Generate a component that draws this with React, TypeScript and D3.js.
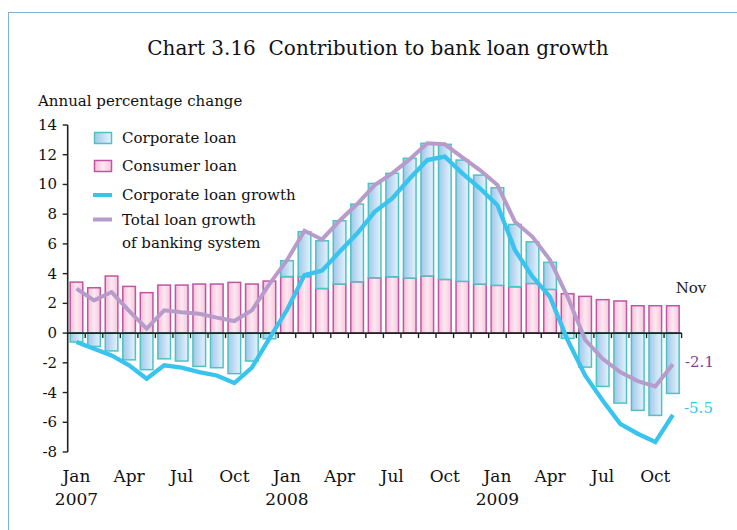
import React from "react";
import * as d3 from "d3";

const months = [
  "2007-01","2007-02","2007-03","2007-04","2007-05","2007-06","2007-07","2007-08","2007-09","2007-10","2007-11","2007-12",
  "2008-01","2008-02","2008-03","2008-04","2008-05","2008-06","2008-07","2008-08","2008-09","2008-10","2008-11","2008-12",
  "2009-01","2009-02","2009-03","2009-04","2009-05","2009-06","2009-07","2009-08","2009-09","2009-10","2009-11",
];
const consumerLoan = [
  3.43, 3.05, 3.84, 3.14, 2.72, 3.23, 3.23, 3.3, 3.3, 3.41, 3.3, 3.5,
  3.8, 3.8, 3.0, 3.3, 3.45, 3.72, 3.79, 3.7, 3.84, 3.61, 3.48, 3.3,
  3.21, 3.12, 3.34, 2.94, 2.65, 2.47, 2.25, 2.16, 1.84, 1.84, 1.84,
];
const corporateLoan = [
  -0.6, -0.9, -1.2, -1.8, -2.46, -1.73, -1.88, -2.24, -2.33, -2.73, -1.88, -0.38,
  1.07, 3.02, 3.21, 4.26, 5.23, 6.35, 6.96, 8.06, 8.93, 9.09, 8.16, 7.33,
  6.57, 4.19, 2.8, 1.82, -0.36, -2.29, -3.59, -4.71, -5.2, -5.54, -4.06,
];
const corporateGrowth = [
  -0.6, -1.05, -1.5, -2.17, -3.07, -2.17, -2.33, -2.62, -2.85, -3.36, -2.33, -0.35,
  1.55, 3.9, 4.2, 5.47, 6.7, 8.16, 9.06, 10.4, 11.64, 11.87, 10.75, 9.74,
  8.61, 5.58, 3.79, 2.44, -0.47, -2.85, -4.53, -6.1, -6.77, -7.33, -5.5,
];
const totalGrowth = [
  2.99, 2.2, 2.76, 1.5, 0.3, 1.53, 1.4, 1.3, 1.04, 0.81, 1.53, 3.3,
  4.9, 6.88, 6.3, 7.56, 8.68, 9.96, 10.75, 11.69, 12.77, 12.7, 11.82, 10.97,
  9.96, 7.49, 6.48, 4.91, 2.44, -0.45, -1.73, -2.62, -3.23, -3.59, -2.1,
];
const yTicks = [14, 12, 10, 8, 6, 4, 2, 0, -2, -4, -6, -8];
const monthLabels = ["Jan", "Apr", "Jul", "Oct"];
const yearLabels = ["2007", "2008", "2009"];
const legendItems = ["Corporate loan", "Consumer loan", "Corporate loan growth", "Total loan growth", "of banking system"];

const FONT = "'DejaVu Serif', 'Liberation Serif', serif";
const BLUE = "#38c4ef";
const PURPLE = "#b79bcb";
const TEAL = "#4dc3c3";
const MAGENTA = "#bf55a4";

export default function App() {
  const W = 737, H = 530;
  const x = d3.scaleBand<number>().domain(months.map((_, i) => i)).range([67.7, 681.6]).paddingInner(0.28).paddingOuter(0.14);
  const y = d3.scaleLinear().domain([-8, 14]).range([452, 125]);
  const cx = (i: number) => (x(i) as number) + x.bandwidth() / 2;
  const line = d3.line<number>().x((_, i) => cx(i)).y((d) => y(d)).curve(d3.curveLinear);
  const step = x.step();
  const x0 = 67.7;
  const xEnd = 681.6;
  const y0 = y(0);

  return (
    <svg width={W} height={H} style={{ position: "absolute", left: 0, top: 0, background: "#fff" }} fontFamily={FONT}>
      <defs>
        <linearGradient id="corpG" x1="0" x2="1" y1="0" y2="0">
          <stop offset="0%" stopColor="#9fc8ea" />
          <stop offset="65%" stopColor="#cde4f6" />
          <stop offset="100%" stopColor="#e6f2fb" />
        </linearGradient>
        <linearGradient id="consG" x1="0" x2="1" y1="0" y2="0">
          <stop offset="0%" stopColor="#f5bcd7" />
          <stop offset="50%" stopColor="#fde9f2" />
          <stop offset="100%" stopColor="#f6c6dc" />
        </linearGradient>
      </defs>
      <rect x={8.5} y={12.5} width={740} height={540} fill="none" stroke="#7fb1dd" strokeWidth={1} />
      <text x={378} y={55} textAnchor="middle" fontSize={20} fill="#111" style={{ whiteSpace: "pre" }}>Chart 3.16  Contribution to bank loan growth</text>
      <text x={38} y={106} fontSize={15} fill="#111">Annual percentage change</text>

      {/* bars */}
      {months.map((_, i) => {
        const c = consumerLoan[i];
        const k = corporateLoan[i];
        const bx = x(i) as number;
        const bw = x.bandwidth();
        const consTop = y(c);
        const corpRect = k >= 0
          ? { y: y(c + k), h: y(c) - y(c + k) }
          : { y: y0, h: y(k) - y0 };
        return (
          <g key={i}>
            <rect x={bx} y={consTop} width={bw} height={y0 - consTop} fill="url(#consG)" stroke={MAGENTA} strokeWidth={1.5} />
            <rect x={bx} y={corpRect.y} width={bw} height={corpRect.h} fill="url(#corpG)" stroke={TEAL} strokeWidth={1.5} />
          </g>
        );
      })}

      {/* axes */}
      <line x1={x0} x2={xEnd} y1={y0} y2={y0} stroke="#222" strokeWidth={1.6} />
      {d3.range(1, months.length + 1).map((j) => (
        <line key={j} x1={x0 + j * step} x2={x0 + j * step} y1={y0} y2={y0 + 5} stroke="#222" strokeWidth={1.4} />
      ))}
      <line x1={x0} x2={x0} y1={y(14)} y2={y(-8)} stroke="#222" strokeWidth={1.6} />
      {yTicks.map((t) => (
        <g key={t}>
          <line x1={x0 - 5} x2={x0} y1={y(t)} y2={y(t)} stroke="#222" strokeWidth={1.4} />
          <text x={57} y={y(t) + 5} textAnchor="end" fontSize={15} fill="#111">{t}</text>
        </g>
      ))}

      {/* lines */}
      <path d={line(totalGrowth) as string} fill="none" stroke={PURPLE} strokeWidth={4} strokeLinejoin="miter" />
      <path d={line(corporateGrowth) as string} fill="none" stroke={BLUE} strokeWidth={4.3} strokeLinejoin="miter" />

      {/* x labels */}
      {months.map((_, i) => (i % 3 === 0 ? (
        <text key={i} x={cx(i)} y={482} textAnchor="middle" fontSize={17} fill="#111">{monthLabels[(i / 3) % 4]}</text>
      ) : null))}
      {yearLabels.map((yr, j) => (
        <text key={yr} x={cx(j * 12)} y={505} textAnchor="middle" fontSize={17} fill="#111">{yr}</text>
      ))}

      {/* end labels */}
      <text x={691} y={293} textAnchor="middle" fontSize={15} fill="#222">Nov</text>
      <text x={685} y={367} fontSize={15} fill="#8a3d97">{totalGrowth[totalGrowth.length - 1].toFixed(1)}</text>
      <text x={684} y={413} fontSize={15} fill={BLUE}>{corporateGrowth[corporateGrowth.length - 1].toFixed(1)}</text>

      {/* legend */}
      <rect x={94.5} y={132.5} width={17} height={11} fill="url(#corpG)" stroke={TEAL} strokeWidth={1.5} />
      <rect x={94.5} y={160.5} width={17} height={11} fill="url(#consG)" stroke={MAGENTA} strokeWidth={1.5} />
      <line x1={93} x2={112} y1={195} y2={195} stroke={BLUE} strokeWidth={4} />
      <line x1={93} x2={112} y1={219.5} y2={219.5} stroke={PURPLE} strokeWidth={4} />
      <text x={122} y={143} fontSize={15} fill="#111">{legendItems[0]}</text>
      <text x={122} y={171} fontSize={15} fill="#111">{legendItems[1]}</text>
      <text x={122} y={200} fontSize={15} fill="#111">{legendItems[2]}</text>
      <text x={122} y={225} fontSize={15} fill="#111">{legendItems[3]}</text>
      <text x={122} y={248} fontSize={15} fill="#111">{legendItems[4]}</text>
    </svg>
  );
}
